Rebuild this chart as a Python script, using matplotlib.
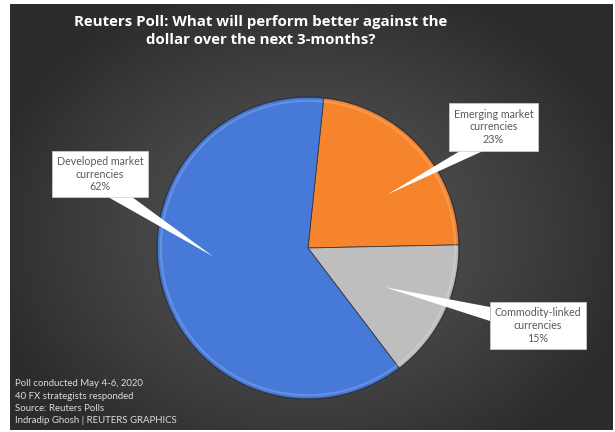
import numpy as np
import matplotlib
matplotlib.use("Agg")
import matplotlib.pyplot as plt
from matplotlib.patches import Rectangle, Polygon

# Data
labels = ["Emerging market\ncurrencies", "Commodity-linked\ncurrencies", "Developed market\ncurrencies"]
shares = [23, 15, 62]
colors = ["#F5842C", "#BEBEBE", "#4679D8"]

title = "Reuters Poll: What will perform better against the\ndollar over the next 3-months?"
notes = ["Poll conducted May 4-6, 2020",
         "40 FX strategists responded",
         "Source: Reuters Polls",
         "Indradip Ghosh | REUTERS GRAPHICS"]

# Layout (pixels, y measured from top)
W, H = 615, 432
CX, CY, R = 308, 248, 154
START = 84
# callout boxes: x0, y0, x1, y1
boxes = [(449, 103, 538, 151), (490, 302, 586, 349), (52, 151, 148, 197)]
# pointer bases (two points on box edge) and tip (angle deg, fraction of radius)
bases = [((460, 151), (483, 151)), ((490, 307), (490, 321)), ((108, 197), (132, 197))]
tips = [(34, 0.62), (-27, 0.56), (185, 0.62)]

fig = plt.figure(figsize=(W / 100, H / 100), dpi=100)
fig.patch.set_facecolor("white")

# dark radial gradient background
bg = fig.add_axes([10 / W, 2 / H, 603 / W, 426 / H])
yy, xx = np.mgrid[0:426, 0:603]
rr = np.sqrt(((xx - 300) / 330.0) ** 2 + ((yy - 230) / 260.0) ** 2)
rr = np.clip(rr, 0, 1)
shade = 0x56 / 255 - (0x56 - 0x2c) / 255 * rr ** 1.3
bg.imshow(np.dstack([shade, shade, shade]), aspect="auto", interpolation="bilinear")
bg.axis("off")

# pie
ax = fig.add_axes([(CX - R) / W, (H - CY - R) / H, 2 * R / W, 2 * R / H])
wedges, _ = ax.pie(shares, colors=colors, startangle=START, counterclock=False,
                   radius=1, wedgeprops=dict(edgecolor="#3a3a3a", linewidth=0.6))
for w in wedges:
    w.set_zorder(2)
# subtle bevel highlight and rim
theta = np.linspace(0, 2 * np.pi, 400)
ax.plot(0.975 * np.cos(theta), 0.975 * np.sin(theta), color="white", alpha=0.18, lw=1.5, zorder=3)
ax.plot(np.cos(theta), np.sin(theta), color="#1e2a44", alpha=0.45, lw=1.1, zorder=3)
ax.set_xlim(-1.02, 1.02)
ax.set_ylim(-1.02, 1.02)
ax.axis("off")

# overlay in pixel coords for callouts and text
ov = fig.add_axes([0, 0, 1, 1], zorder=5)
ov.set_xlim(0, W)
ov.set_ylim(H, 0)
ov.axis("off")

for lab, val, box, base, tip in zip(labels, shares, boxes, bases, tips):
    ang, frac = tip
    tx = CX + R * frac * np.cos(np.radians(ang))
    ty = CY - R * frac * np.sin(np.radians(ang))
    ov.add_patch(Polygon([base[0], base[1], (tx, ty)], closed=True, facecolor="white",
                         edgecolor="none"))
    x0, y0, x1, y1 = box
    ov.add_patch(Rectangle((x0, y0), x1 - x0, y1 - y0, facecolor="white", edgecolor="#d0d0d0",
                           linewidth=0.5))
    ov.text((x0 + x1) / 2, (y0 + y1) / 2, f"{lab}\n{val}%", ha="center", va="center",
            fontsize=7.7, color="#595959", family="Lato", linespacing=1.2)

ov.text(261, 31, title, ha="center", va="center", fontsize=10.8, fontweight="bold",
        color="white", family="Open Sans", linespacing=1.35)

for i, line in enumerate(notes):
    ov.text(15, 384 + i * 12.3, line, ha="left", va="center", fontsize=6.9,
            color="#dcdcdc", family="Lato")

fig.savefig("out.png", dpi=100)
